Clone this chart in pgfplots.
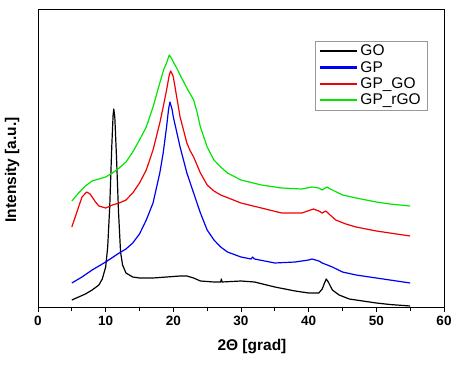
\documentclass[border=0pt]{standalone}
\usepackage{fontspec}
\setmainfont{Liberation Sans}
\usepackage{pgfplots}
\pgfplotsset{compat=1.18}
\definecolor{cgreen}{RGB}{0,230,0}
\definecolor{cblue}{RGB}{0,0,240}
\definecolor{cred}{RGB}{240,0,0}
\begin{document}
\begin{tikzpicture}
\begin{axis}[
  scale only axis, width=406pt, height=298pt,
  xmin=0, xmax=60, ymin=0, ymax=298,
  xtick={0,10,...,60}, minor xtick={5,15,...,55},
  ytick=\empty,
  axis x line*=bottom,
  tick align=outside, major tick length=5pt, minor tick length=4pt,
  tick style={black, line width=0.8pt},
  axis line style={line width=0.8pt},
  /pgf/number format/assume math mode=true,
  ticklabel style={font=\fontsize{13.5}{16}\selectfont\bfseries},
  xticklabel style={yshift=-1pt},
  xlabel={2Θ [grad]},
  ylabel={Intensity [a.u.]},
  xlabel style={font=\fontsize{15.5}{18}\selectfont\bfseries, at={(axis description cs:0.527,0)}, anchor=center, yshift=-40pt},
  ylabel style={font=\fontsize{15.5}{18}\selectfont\bfseries, at={(axis description cs:-0.064,0.46)}, anchor=center},
  legend style={at={(axis description cs:0.958,0.893)}, anchor=north east, draw=gray!80,
     font=\fontsize{15.5}{18}\selectfont, inner xsep=4pt, inner ysep=2pt},
  legend cell align=left,
  legend image code/.code={\draw[#1, line width=2.5pt] (0pt,0pt) -- (37pt,0pt);},
]
\addplot[draw=black, line width=1.2pt, line join=round] coordinates {
(5,7) (6,10) (7,13) (8,17) (9,22) (9.5,28) (10,40) (10.3,60) (10.6,100) (10.9,160) (11.1,192) (11.2,198) (11.35,190) (11.6,150) (11.9,95) (12.2,55) (12.5,42) (13,34) (14,30) (15,29) (17,29) (19,30) (21,31) (22,31) (23,29) (24,26) (26,25) (27,25) (27.1,28) (27.2,25) (30,26) (32,25) (35,20) (38,16) (40,14) (41.5,14) (42,18) (42.4,25) (42.6,28) (42.9,25) (43.5,17) (44.5,12) (46,8) (48,6) (50,4) (52,2.5) (55,1)
};
\addlegendentry{GO}
\addplot[draw=cblue, line width=1.2pt, line join=round] coordinates {
(5,24) (6.5,30) (8,37) (10,45) (12,54) (13,58) (14,64) (15,73) (16,87) (17,104) (18,134) (18.5,154) (19,180) (19.3,198) (19.5,205) (19.8,198) (20,190) (20.5,175) (21,160) (22,134) (23,114) (24,94) (25,77) (26,67) (27,60) (28,55) (30,50) (31.5,48) (31.7,50) (32,48) (35,44) (38,45) (40,47) (40.5,48) (41.5,46) (42,44) (43.5,40) (45,35) (47,32) (50,29) (52,27) (55,24)
};
\addlegendentry{GP}
\addplot[draw=cred, line width=1.2pt, line join=round] coordinates {
(5,80) (5.5,90) (6,100) (6.5,110) (7.2,115) (7.7,113) (8,110) (8.5,105) (9,101) (10,99) (11,102) (12,104) (13,107) (14,114) (15,124) (16,137) (17,157) (18,184) (18.5,200) (19,217) (19.4,232) (19.6,236) (19.9,232) (20,230) (20.5,210) (21,190) (22,164) (22.5,156) (23,150) (24,134) (25,122) (26,116) (27,112) (30,104) (33,99) (36,94) (39,94) (40.7,98) (41.5,96) (42,94) (42.5,96) (42.7,95) (43,93) (44,87) (45.5,83) (47,80) (50,76) (52,74) (55,71)
};
\addlegendentry{GP\_GO}
\addplot[draw=cgreen, line width=1.2pt, line join=round] coordinates {
(5,106) (6,114) (7,121) (8,126) (9,128) (10,130) (11,134) (12,139) (13,145) (14,155) (15,167) (16,180) (17,200) (18,224) (18.6,238) (19,244) (19.4,252) (19.7,249) (20,245) (20.5,239) (21,232) (22,219) (23,207) (23.5,195) (24,180) (25,160) (26,147) (27,140) (28,134) (30,127) (33,122) (36,119) (39,118) (40.5,120) (41.5,119) (42,117) (42.7,120) (43.2,118) (45,112) (47,109) (50,105) (52,103) (55,101)
};
\addlegendentry{GP\_rGO}
\end{axis}
\draw[line width=0.8pt] (0,0) rectangle (406pt,298pt);
\pgfresetboundingbox
\path[use as bounding box] (-38pt,-68pt) rectangle (436pt,307pt);
\end{tikzpicture}
\end{document}
